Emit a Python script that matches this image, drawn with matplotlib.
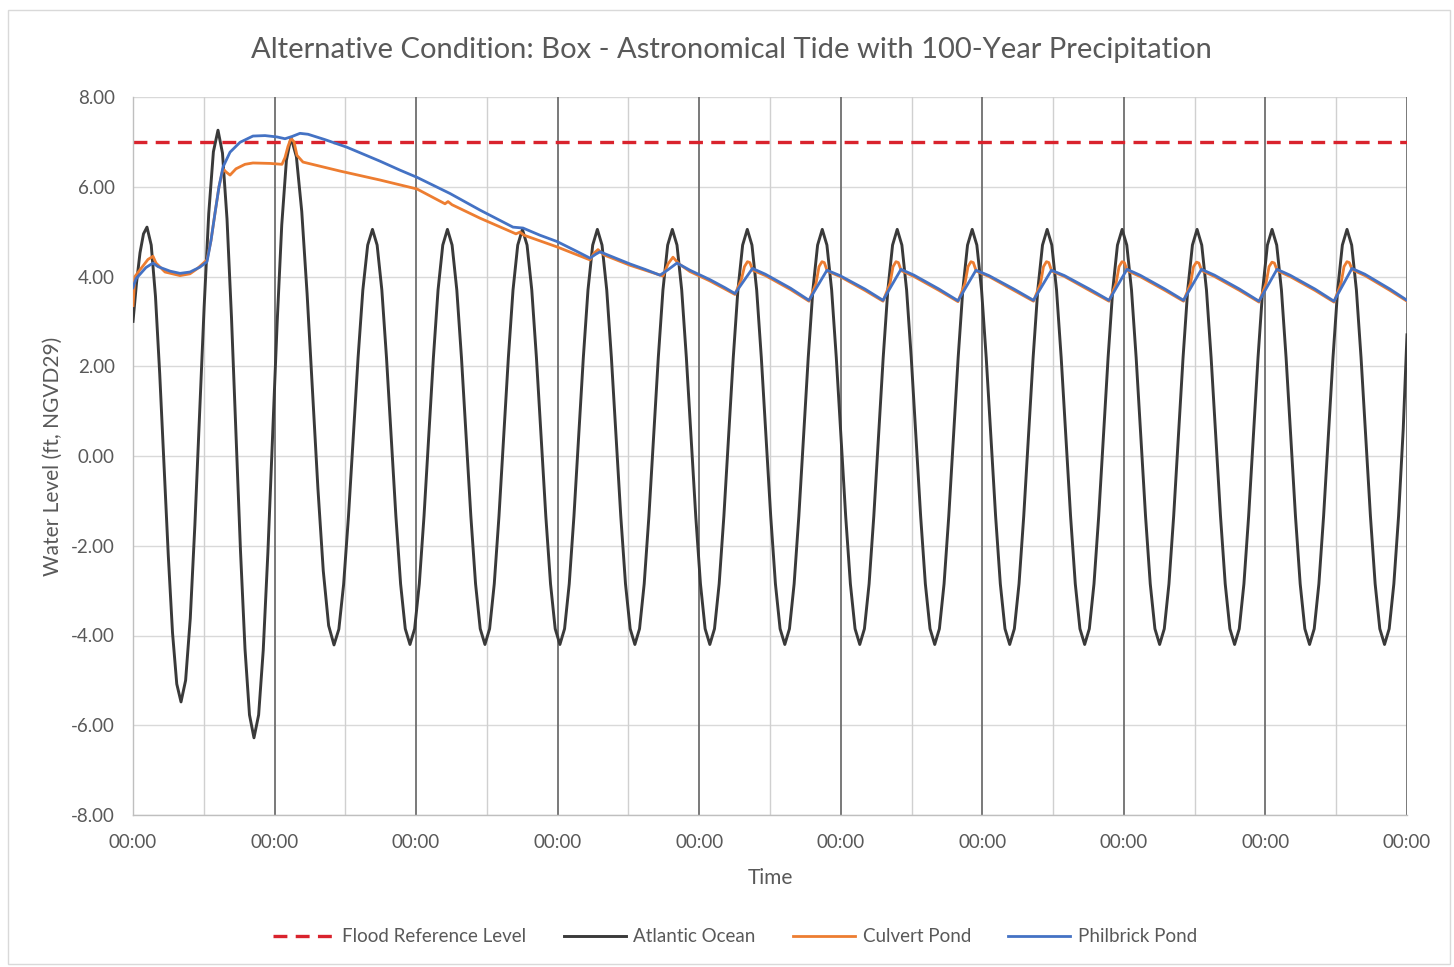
import matplotlib
matplotlib.use("Agg")
import matplotlib.pyplot as plt
from matplotlib.patches import Rectangle
from matplotlib.ticker import FixedLocator, FuncFormatter

plt.rcParams["font.family"] = ["Lato", "DejaVu Sans"]
plt.rcParams["lines.scale_dashes"] = False

# ---- data (time in hours from start, levels in ft NGVD29) ----
flood_level_ft = 7.0

tide_hours = [
    0.00, 0.59, 1.19, 1.78,
    2.37, 3.09, 3.81, 4.53, 5.26, 5.98, 6.70, 7.42,
    8.14, 8.92, 9.71, 10.49, 11.28, 12.06, 12.84, 13.63,
    14.41, 15.17, 15.94, 16.70, 17.46, 18.22, 18.99, 19.75,
    20.51, 21.30, 22.08, 22.87, 23.65, 24.44, 25.22, 26.01,
    26.79, 27.70, 28.61, 29.52, 30.44, 31.35, 32.26, 33.17,
    34.08, 34.90, 35.71, 36.53, 37.34, 38.16, 38.97, 39.79,
    40.60, 41.39, 42.19, 42.98, 43.78, 44.57, 45.37, 46.16,
    46.96, 47.75, 48.54, 49.34, 50.13, 50.93, 51.72, 52.52,
    53.31, 54.10, 54.90, 55.69, 56.49, 57.28, 58.08, 58.87,
    59.67, 60.46, 61.25, 62.05, 62.84, 63.64, 64.43, 65.23,
    66.02, 66.81, 67.61, 68.40, 69.20, 69.99, 70.79, 71.58,
    72.38, 73.17, 73.96, 74.76, 75.55, 76.35, 77.14, 77.94,
    78.73, 79.52, 80.32, 81.11, 81.91, 82.70, 83.50, 84.29,
    85.09, 85.88, 86.67, 87.47, 88.26, 89.06, 89.85, 90.65,
    91.44, 92.23, 93.03, 93.82, 94.62, 95.41, 96.21, 97.00,
    97.80, 98.59, 99.38, 100.18, 100.97, 101.77, 102.56, 103.36,
    104.15, 104.94, 105.74, 106.53, 107.33, 108.12, 108.92, 109.71,
    110.51, 111.30, 112.09, 112.89, 113.68, 114.48, 115.27, 116.07,
    116.86, 117.65, 118.45, 119.24, 120.04, 120.83, 121.63, 122.42,
    123.22, 124.01, 124.80, 125.60, 126.39, 127.19, 127.98, 128.78,
    129.57, 130.36, 131.16, 131.95, 132.75, 133.54, 134.34, 135.13,
    135.93, 136.72, 137.51, 138.31, 139.10, 139.90, 140.69, 141.49,
    142.28, 143.07, 143.87, 144.66, 145.46, 146.25, 147.05, 147.84,
    148.64, 149.43, 150.22, 151.02, 151.81, 152.61, 153.40, 154.20,
    154.99, 155.78, 156.58, 157.37, 158.17, 158.96, 159.76, 160.55,
    161.35, 162.14, 162.93, 163.73, 164.52, 165.32, 166.11, 166.91,
    167.70, 168.49, 169.29, 170.08, 170.88, 171.67, 172.47, 173.26,
    174.06, 174.85, 175.64, 176.44, 177.23, 178.03, 178.82, 179.62,
    180.41, 181.20, 182.00, 182.79, 183.59, 184.38, 185.18, 185.97,
    186.77, 187.56, 188.35, 189.15, 189.94, 190.74, 191.53, 192.33,
    193.12, 193.91, 194.71, 195.50, 196.30, 197.09, 197.89, 198.68,
    199.48, 200.27, 201.06, 201.86, 202.65, 203.45, 204.24, 205.04,
    205.83, 206.62, 207.42, 208.21, 209.01, 209.80, 210.60, 211.39,
    212.19, 212.98, 213.77, 214.57, 215.36, 216.00,
]
tide_ft = [
    3.00, 3.85, 4.53, 4.95,
    5.10, 4.70, 3.56, 1.83, -0.19, -2.21, -3.94, -5.08,
    -5.48, -5.00, -3.62, -1.54, 0.89, 3.32, 5.40, 6.78,
    7.26, 6.75, 5.28, 3.08, 0.49, -2.10, -4.30, -5.77,
    -6.28, -5.77, -4.33, -2.15, 0.41, 2.97, 5.15, 6.59,
    7.10, 6.67, 5.45, 3.61, 1.45, -0.72, -2.56, -3.78,
    -4.21, -3.86, -2.86, -1.35, 0.42, 2.19, 3.70, 4.70,
    5.05, 4.70, 3.70, 2.19, 0.43, -1.34, -2.85, -3.85,
    -4.20, -3.85, -2.85, -1.34, 0.43, 2.19, 3.70, 4.70,
    5.05, 4.70, 3.70, 2.19, 0.43, -1.34, -2.85, -3.85,
    -4.20, -3.85, -2.85, -1.34, 0.43, 2.19, 3.70, 4.70,
    5.05, 4.70, 3.70, 2.19, 0.43, -1.34, -2.85, -3.85,
    -4.20, -3.85, -2.85, -1.34, 0.43, 2.19, 3.70, 4.70,
    5.05, 4.70, 3.70, 2.19, 0.43, -1.34, -2.85, -3.85,
    -4.20, -3.85, -2.85, -1.34, 0.43, 2.19, 3.70, 4.70,
    5.05, 4.70, 3.70, 2.19, 0.43, -1.34, -2.85, -3.85,
    -4.20, -3.85, -2.85, -1.34, 0.43, 2.19, 3.70, 4.70,
    5.05, 4.70, 3.70, 2.19, 0.43, -1.34, -2.85, -3.85,
    -4.20, -3.85, -2.85, -1.34, 0.43, 2.19, 3.70, 4.70,
    5.05, 4.70, 3.70, 2.19, 0.43, -1.34, -2.85, -3.85,
    -4.20, -3.85, -2.85, -1.34, 0.43, 2.19, 3.70, 4.70,
    5.05, 4.70, 3.70, 2.19, 0.43, -1.34, -2.85, -3.85,
    -4.20, -3.85, -2.85, -1.34, 0.43, 2.19, 3.70, 4.70,
    5.05, 4.70, 3.70, 2.19, 0.43, -1.34, -2.85, -3.85,
    -4.20, -3.85, -2.85, -1.34, 0.43, 2.19, 3.70, 4.70,
    5.05, 4.70, 3.70, 2.19, 0.43, -1.34, -2.85, -3.85,
    -4.20, -3.85, -2.85, -1.34, 0.43, 2.19, 3.70, 4.70,
    5.05, 4.70, 3.70, 2.19, 0.43, -1.34, -2.85, -3.85,
    -4.20, -3.85, -2.85, -1.34, 0.43, 2.19, 3.70, 4.70,
    5.05, 4.70, 3.70, 2.19, 0.43, -1.34, -2.85, -3.85,
    -4.20, -3.85, -2.85, -1.34, 0.43, 2.19, 3.70, 4.70,
    5.05, 4.70, 3.70, 2.19, 0.43, -1.34, -2.85, -3.85,
    -4.20, -3.85, -2.85, -1.34, 0.43, 2.19, 3.70, 4.70,
    5.05, 4.70, 3.70, 2.19, 0.43, -1.34, -2.85, -3.85,
    -4.20, -3.85, -2.85, -1.34, 0.60, 2.70,
]

culvert_hours = [
    0.00, 0.34, 1.19, 2.54, 3.39, 3.90, 5.43, 7.97, 9.66, 10.85,
    12.55, 13.22, 13.90, 14.58, 15.26, 15.77, 16.45, 17.46, 18.99, 20.34,
    23.23, 25.26, 25.77, 26.28, 26.79, 27.30, 27.80, 28.82, 35.09, 41.88,
    48.15, 52.90, 53.41, 54.08, 58.83, 64.93, 65.61, 66.29, 71.88, 77.48,
    78.16, 78.84, 79.86, 84.26, 89.86, 90.70, 91.55, 92.57, 94.43, 97.82,
    100.37,
    102.06, 103.18, 103.67, 104.18, 104.58, 105.08, 107.23, 111.47,
    114.61, 115.81, 116.31, 116.81, 117.21, 117.71, 119.86, 124.10,
    127.16, 128.36, 128.86, 129.36, 129.76, 130.26, 132.41, 136.65,
    139.87, 141.07, 141.57, 142.07, 142.47, 142.97, 145.12, 149.36,
    152.67, 153.87, 154.37, 154.87, 155.27, 155.77, 157.92, 162.16,
    165.48, 166.68, 167.18, 167.68, 168.08, 168.58, 170.73, 174.97,
    178.11, 179.31, 179.81, 180.31, 180.71, 181.21, 183.36, 187.60,
    190.91, 192.11, 192.61, 193.11, 193.51, 194.01, 196.16, 200.40,
    203.62, 204.82, 205.32, 205.82, 206.22, 206.72, 208.87, 213.11,
    216.00,
]
culvert_ft = [
    3.35, 4.00, 4.15, 4.38, 4.45, 4.30, 4.10, 4.02, 4.06, 4.17,
    4.37, 4.80, 5.41, 6.00, 6.40, 6.33, 6.26, 6.40, 6.50, 6.53,
    6.52, 6.50, 6.65, 6.90, 7.08, 7.00, 6.70, 6.55, 6.35, 6.15,
    5.95, 5.62, 5.67, 5.60, 5.30, 4.95, 4.99, 4.92, 4.66, 4.37,
    4.52, 4.60, 4.48, 4.25, 4.01, 4.28, 4.43, 4.28, 4.11, 3.90,
    3.72,
    3.60, 3.95, 4.22, 4.33, 4.31, 4.14, 4.02, 3.71,
    3.45, 3.85, 4.22, 4.33, 4.31, 4.12, 4.00, 3.69,
    3.45, 3.85, 4.22, 4.33, 4.31, 4.13, 4.00, 3.69,
    3.44, 3.85, 4.22, 4.33, 4.31, 4.12, 4.00, 3.69,
    3.45, 3.85, 4.22, 4.33, 4.31, 4.12, 4.00, 3.69,
    3.45, 3.85, 4.22, 4.33, 4.31, 4.13, 4.00, 3.69,
    3.45, 3.85, 4.22, 4.32, 4.30, 4.13, 4.00, 3.69,
    3.43, 3.85, 4.22, 4.32, 4.30, 4.13, 4.00, 3.69,
    3.43, 3.85, 4.22, 4.33, 4.31, 4.15, 4.02, 3.69,
    3.45,
]

philbrick_hours = [
    0.00, 0.51, 2.20, 3.39, 4.24, 6.27, 7.97, 9.66, 11.36, 12.55,
    13.22, 13.90, 14.58, 15.26, 16.45, 18.14, 20.34, 22.38, 24.41, 25.77,
    26.96, 28.31, 29.67, 32.55, 36.28, 41.88, 45.27, 48.15, 53.74, 58.83,
    64.43, 65.27, 66.12, 69.00, 71.88, 74.94, 77.48, 78.50, 79.18, 80.87,
    84.26, 86.80, 89.35, 90.70, 92.23, 94.43, 97.82, 100.37,
    102.06, 105.03, 107.23, 111.47,
    114.61, 117.66, 119.86, 124.10,
    127.16, 130.21, 132.41, 136.65,
    139.87, 142.92, 145.12, 149.36,
    152.67, 155.72, 157.92, 162.16,
    165.48, 168.53, 170.73, 174.97,
    178.11, 181.16, 183.36, 187.60,
    190.91, 193.96, 196.16, 200.40,
    203.62, 206.67, 208.87, 213.11,
    216.00,
]
philbrick_ft = [
    3.75, 3.95, 4.20, 4.30, 4.22, 4.12, 4.07, 4.10, 4.21, 4.33,
    4.80, 5.41, 6.00, 6.44, 6.77, 6.99, 7.13, 7.14, 7.11, 7.07,
    7.12, 7.19, 7.17, 7.05, 6.88, 6.57, 6.37, 6.21, 5.85, 5.48,
    5.10, 5.09, 5.08, 4.92, 4.78, 4.58, 4.41, 4.50, 4.55, 4.46,
    4.28, 4.16, 4.03, 4.15, 4.30, 4.14, 3.93, 3.75,
    3.62, 4.18, 4.05, 3.74,
    3.47, 4.14, 4.02, 3.72,
    3.47, 4.16, 4.03, 3.72,
    3.46, 4.14, 4.02, 3.72,
    3.47, 4.14, 4.02, 3.72,
    3.47, 4.16, 4.03, 3.72,
    3.47, 4.16, 4.03, 3.72,
    3.45, 4.16, 4.03, 3.72,
    3.45, 4.18, 4.05, 3.72,
    3.47,
]

day_ticks = [0, 24, 48, 72, 96, 120, 144, 168, 192, 216]
half_day_ticks = [12, 36, 60, 84, 108, 132, 156, 180, 204]
y_ticks = [-8, -6, -4, -2, 0, 2, 4, 6, 8]

title = "Alternative Condition: Box - Astronomical Tide with 100-Year Precipitation"

# ---- figure ----
W, H = 1454, 967
fig = plt.figure(figsize=(W / 100, H / 100), dpi=100)
fig.patch.set_facecolor("white")
fig.patches.append(Rectangle((8 / W, 3 / H), 1442 / W, 954 / H, transform=fig.transFigure,
                             fill=False, edgecolor="#d9d9d9", linewidth=1.0))

ax = fig.add_axes([133 / W, 1 - 815 / H, (1407 - 133) / W, (815 - 97) / H])

text_gray = "#595959"

ax.set_xlim(0, 216)
ax.set_ylim(-8, 8)

# grid
for y in y_ticks:
    ax.axhline(y, color="#d9d9d9", linewidth=1.0, zorder=0)
for x in half_day_ticks:
    ax.axvline(x, color="#d0d0d0", linewidth=1.0, zorder=0)
for x in day_ticks[1:]:
    ax.axvline(x, color="#6e6e6e", linewidth=1.3, zorder=0.5)

# series
ax.plot([0, 216], [flood_level_ft, flood_level_ft], color="#d9232d", linewidth=2.4,
        dashes=(10, 6), label="Flood Reference Level", zorder=2)
ax.plot(tide_hours, tide_ft, color="#3a3a3a", linewidth=2.1, label="Atlantic Ocean",
        solid_joinstyle="round", zorder=3)
ax.plot(culvert_hours, culvert_ft, color="#ed7d31", linewidth=2.0, label="Culvert Pond",
        solid_joinstyle="round", zorder=4)
ax.plot(philbrick_hours, philbrick_ft, color="#4472c4", linewidth=2.0, label="Philbrick Pond",
        solid_joinstyle="round", zorder=5)

# axes styling
for side in ("top", "right"):
    ax.spines[side].set_visible(False)
ax.spines["left"].set_color("#bfbfbf")
ax.spines["bottom"].set_color("#bfbfbf")
ax.spines["left"].set_linewidth(1.0)
ax.spines["bottom"].set_linewidth(1.0)

ax.xaxis.set_major_locator(FixedLocator(day_ticks))
ax.xaxis.set_major_formatter(FuncFormatter(lambda v, p: "00:00"))
ax.yaxis.set_major_locator(FixedLocator(y_ticks))
ax.yaxis.set_major_formatter(FuncFormatter(lambda v, p: f"{v:.2f}"))
ax.tick_params(axis="both", length=0, labelsize=13.5, labelcolor=text_gray)
ax.tick_params(axis="x", pad=14)
ax.tick_params(axis="y", pad=13)

ax.set_xlabel("Time", fontsize=15, color=text_gray)
ax.set_ylabel("Water Level (ft, NGVD29)", fontsize=15, color=text_gray)
ax.xaxis.set_label_coords(0.5, -0.074)
ax.yaxis.set_label_coords(-0.055, 0.5)

fig.text(731 / W, 1 - 50 / H, title, ha="center", va="center", fontsize=21, color=text_gray)

fig.legend(loc="center", bbox_to_anchor=(735 / W, 1 - 937 / H), ncol=4, frameon=False,
           fontsize=13.5, handlelength=3.3, handletextpad=0.4, columnspacing=2.0,
           labelcolor=text_gray)

fig.savefig("out.png", dpi=100, facecolor="white")
